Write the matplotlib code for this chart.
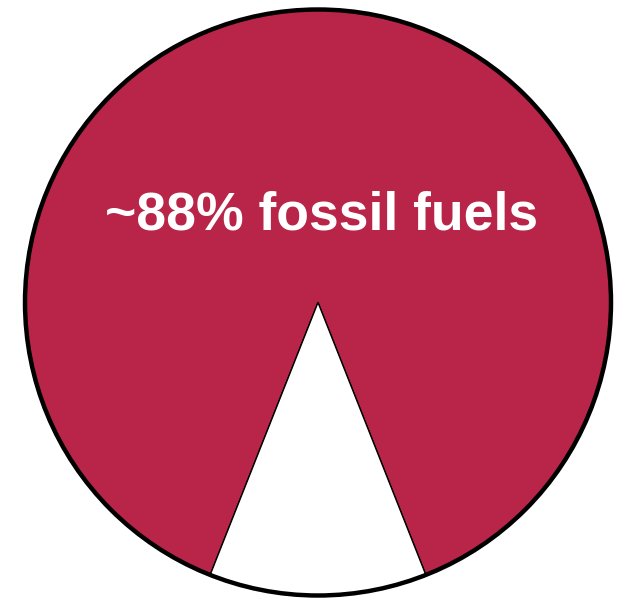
import matplotlib
matplotlib.use("Agg")
import matplotlib.pyplot as plt
from matplotlib.patches import Circle

# Share of energy supply
labels = ["fossil fuels", "other"]
shares = [88, 12]
colors = ["#B82549", "#FFFFFF"]
label_text = "~88% fossil fuels"

W, H = 621, 600
fig = plt.figure(figsize=(W / 100, H / 100), dpi=100)
ax = fig.add_axes([0, 0, 1, 1])

cx, cy, r = 318, 297.5, 293.0  # pixel centre (from bottom) and radius
ax.set_xlim(-cx / r, (W - cx) / r)
ax.set_ylim(-cy / r, (H - cy) / r)
ax.set_aspect("equal")
ax.axis("off")

# Put the small slice centred at the bottom
start = 270 - shares[1] / 100 * 360 / 2
ax.pie(shares, colors=colors, startangle=start, counterclock=False,
       radius=1.0, center=(0, 0),
       wedgeprops=dict(edgecolor="black", linewidth=1.0))
ax.add_patch(Circle((0, 0), 1.0, fill=False, edgecolor="black", linewidth=3.2))

ax.text(4 / r, (H - 215 - cy) / r, label_text, ha="center", va="center",
        color="white", fontsize=38.5, fontweight="bold", family="Liberation Sans")

ax.set_xlim(-cx / r, (W - cx) / r)
ax.set_ylim(-cy / r, (H - cy) / r)
fig.savefig("out.png", dpi=100)
